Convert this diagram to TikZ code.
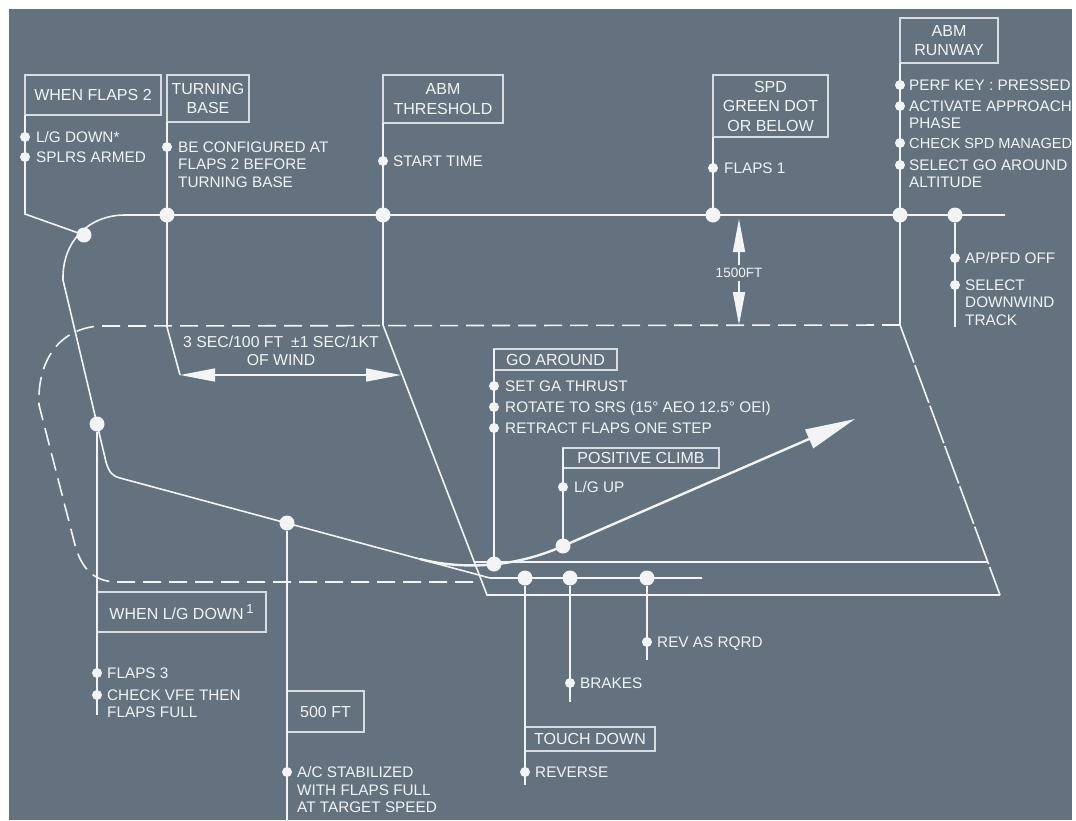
\documentclass[tikz,border=0pt]{standalone}
\usepackage{fontspec}
\setmainfont{Liberation Sans}
\usepackage{xcolor}
\usetikzlibrary{arrows.meta,calc,positioning}
\definecolor{slate}{RGB}{100,114,127}
\definecolor{chalk}{RGB}{242,244,246}
\definecolor{boxline}{RGB}{214,220,226}
\tikzset{
  lbox/.style={draw=boxline, line width=1.2pt, anchor=north west, inner sep=0pt, outer sep=0pt, align=center, text=chalk, font=\fontsize{16}{19.5}\selectfont},
  bigdot/.style={circle, fill=chalk, minimum size=15pt, inner sep=0pt, outer sep=0pt},
  bul/.style={circle, fill=chalk, minimum size=10pt, inner sep=0pt, outer sep=0pt},
  item/.style={anchor=north west, inner sep=0pt, align=left, text=chalk, font=\fontsize{15.3}{17.5}\selectfont},
  trk/.style={draw=chalk, line width=1.6pt},
  circuit/.style={draw=chalk, line width=1.6pt, dash pattern=on 18pt off 8pt},
  windtip/.style={{Triangle[length=35pt,width=13pt]}-{Triangle[length=35pt,width=13pt]}},
  fttip/.style={-{Triangle[length=33pt,width=12pt]}},
  gatip/.style={-{Triangle[length=50pt,width=20pt]}},
}
\begin{document}
\begin{tikzpicture}[x=1pt,y=-1pt]
\useasboundingbox (0,0) rectangle (1076,820);
\fill[white] (0,0) rectangle (1076,820);
\fill[slate] (9,9) rectangle (1072,820);
%%%% dots on the track
\node[bigdot] (dfl) at (84,235) {};
\node[bigdot] (dtb) at (167,215) {};
\node[bigdot] (dth) at (383,215) {};
\node[bigdot] (dspd) at (713,215) {};
\node[bigdot] (drw) at (900,215) {};
\node[bigdot] (dap) at (955,215) {};
\node[bigdot] (dlg) at (97,424) {};
\node[bigdot] (dfive) at (287,523) {};
\node[bigdot] (dga) at (494,564) {};
\node[bigdot] (dpc) at (563,546) {};
\node[bigdot] (dtd) at (525,578) {};
\node[bigdot] (dbr) at (570,578) {};
\node[bigdot] (drv) at (647,578) {};
%%%% boxes
\node[lbox, minimum width=136pt, minimum height=40pt] (bfl) at (25,75) {WHEN FLAPS 2};
\node[lbox, minimum width=82pt, minimum height=47pt] (btb) at (167,75) {TURNING\\BASE};
\node[lbox, minimum width=120pt, minimum height=48pt] (bth) at (383,75) {ABM\\THRESHOLD};
\node[lbox, minimum width=115pt, minimum height=62pt] (bspd) at (713,75) {SPD\\GREEN DOT\\OR BELOW};
\node[lbox, minimum width=98pt, minimum height=45pt] (brw) at (900,18) {ABM\\RUNWAY};
\node[lbox, minimum width=123pt, minimum height=21pt] (bga) at (494,349) {GO AROUND};
\node[lbox, minimum width=156pt, minimum height=20pt] (bpc) at (563,448) {POSITIVE CLIMB};
\node[lbox, minimum width=169pt, minimum height=40pt] (blg) at (97,592) {WHEN L/G DOWN\,\raisebox{6pt}{\fontsize{13}{13}\selectfont 1}};
\node[lbox, minimum width=77pt, minimum height=41pt] (bfive) at (287,691) {500 FT};
\node[lbox, minimum width=130pt, minimum height=24pt] (btd) at (525,727) {TOUCH DOWN};
%%%% bend points and free ends
\coordinate (dwend) at (1005,215);
\coordinate (kfl) at (25,214);
\coordinate (tbk) at (167,327);
\coordinate (wl) at (180,375);
\coordinate (wr) at (401,375);
\coordinate (thk) at (383,325);
\coordinate (rwk) at (900,325);
\coordinate (rwa) at (487,595);
\coordinate (rwb) at (1000,595);
\coordinate (rwc) at (474,562);
\coordinate (rwd) at (988,562);
\coordinate (flare) at (490,578);
\coordinate (rwend) at (702,578);
\coordinate (apend) at (955,327);
\coordinate (lgend) at (97,715);
\coordinate (fivend) at (287,822);
\coordinate (tdend) at (525,785);
\coordinate (brend) at (570,702);
\coordinate (rvend) at (647,660);
\coordinate (gabr) at (420,559);
\coordinate (gaend) at (855,419);
\coordinate (upt) at (739,219);
\coordinate (dnt) at (739,325);
%%%% circuit and runway
\draw[circuit] (rwk) -- (100,326) .. controls (60,328) and (37,360) .. (39,405) -- (75,545) .. controls (82,570) and (95,582) .. (118,582) -- (480,582);
\draw[trk] (bth.south west) -- (thk) -- (rwa) -- (rwb);
\draw[trk, dash pattern=on 40pt off 3pt] (rwk) -- (rwb);
\draw[trk] (rwc) -- (rwd);
%%%% flight path
\draw[trk] (dwend) -- (dtb.center) -- (125,215) .. controls (90,215) and (62,240) .. (63,280) -- (106,462) .. controls (109,472) and (112,476) .. (120,478) -- (flare) -- (rwend);
\draw[trk, line width=2.4pt, gatip] (gabr) .. controls (450,567) and (505,572) .. (dpc.center) -- (gaend);
%%%% stems
\draw[trk] (bfl.south west) -- (kfl) -- (dfl);
\draw[trk] (btb.south west) -- (tbk) -- (wl);
\draw[trk] (bspd.south west) -- (dspd);
\draw[trk] (brw.south west) -- (rwk);
\draw[trk] (dap) -- (apend);
\draw[trk] (dlg) -- (lgend);
\draw[trk] (dfive) -- (fivend);
\draw[trk] (bga.north west) -- (dga);
\draw[trk] (bpc.north west) -- (dpc);
\draw[trk] (dtd) -- (tdend);
\draw[trk] (dbr) -- (brend);
\draw[trk] (drv) -- (rvend);
%%%% wind and height arrows
\draw[trk, windtip] (wl) -- (wr);
\node[item, anchor=north, align=center, font=\fontsize{15.8}{18}\selectfont] (wtxt) at (281,336) {3 SEC/100 FT\enspace ±1 SEC/1KT\\OF WIND};
\node[text=chalk, font=\fontsize{13.5}{15}\selectfont] (ft) at (739,273) {1500FT};
\draw[trk, fttip] (ft) -- (upt);
\draw[trk, fttip] (ft) -- (dnt);
%%%% bullets
\node[bul] (p1) at (25,137) {};
\node[item] (p1t) at ([xshift=11pt,yshift=5.5pt]p1.center) {L/G DOWN*};
\node[bul] (p2) at (25,157) {};
\node[item] (p2t) at ([xshift=11pt,yshift=5.5pt]p2.center) {SPLRS ARMED};
\node[bul] (p3) at (167,147) {};
\node[item] (p3t) at ([xshift=11pt,yshift=5.5pt]p3.center) {BE CONFIGURED AT\\FLAPS 2 BEFORE\\TURNING BASE};
\node[bul] (p4) at (383,161) {};
\node[item] (p4t) at ([xshift=10pt,yshift=5.5pt]p4.center) {START TIME};
\node[bul] (p5) at (713,168) {};
\node[item] (p5t) at ([xshift=11pt,yshift=5.5pt]p5.center) {FLAPS 1};
\node[bul] (p6) at (900,85) {};
\node[item] (p6t) at ([xshift=9pt,yshift=5.5pt]p6.center) {PERF KEY : PRESSED};
\node[bul] (p7) at (900,106) {};
\node[item] (p7t) at ([xshift=9pt,yshift=5.5pt]p7.center) {ACTIVATE APPROACH\\PHASE};
\node[bul] (p8) at (900,143) {};
\node[item, font=\fontsize{14.6}{17.5}\selectfont] (p8t) at ([xshift=9pt,yshift=5.3pt]p8.center) {CHECK SPD MANAGED};
\node[bul] (p9) at (900,165) {};
\node[item] (p9t) at ([xshift=9pt,yshift=5.5pt]p9.center) {SELECT GO AROUND\\ALTITUDE};
\node[bul] (p10) at (955,258) {};
\node[item] (p10t) at ([xshift=10pt,yshift=5.5pt]p10.center) {AP/PFD OFF};
\node[bul] (p11) at (955,285) {};
\node[item] (p11t) at ([xshift=10pt,yshift=5.5pt]p11.center) {SELECT\\DOWNWIND\\TRACK};
\node[bul] (p12) at (494,386) {};
\node[item] (p12t) at ([xshift=11pt,yshift=5.5pt]p12.center) {SET GA THRUST};
\node[bul] (p13) at (494,407) {};
\node[item] (p13t) at ([xshift=11pt,yshift=5.5pt]p13.center) {ROTATE TO SRS (15° AEO 12.5° OEI)};
\node[bul] (p14) at (494,428) {};
\node[item] (p14t) at ([xshift=11pt,yshift=5.5pt]p14.center) {RETRACT FLAPS ONE STEP};
\node[bul] (p15) at (563,487) {};
\node[item] (p15t) at ([xshift=11pt,yshift=5.5pt]p15.center) {L/G UP};
\node[bul] (p16) at (97,673) {};
\node[item] (p16t) at ([xshift=10pt,yshift=5.5pt]p16.center) {FLAPS 3};
\node[bul] (p17) at (97,695) {};
\node[item] (p17t) at ([xshift=10pt,yshift=5.5pt]p17.center) {CHECK VFE THEN\\FLAPS FULL};
\node[bul] (p18) at (287,772) {};
\node[item] (p18t) at ([xshift=10pt,yshift=5.5pt]p18.center) {A/C STABILIZED\\WITH FLAPS FULL\\AT TARGET SPEED};
\node[bul] (p19) at (525,772) {};
\node[item] (p19t) at ([xshift=10pt,yshift=5.5pt]p19.center) {REVERSE};
\node[bul] (p20) at (570,683) {};
\node[item] (p20t) at ([xshift=10pt,yshift=5.5pt]p20.center) {BRAKES};
\node[bul] (p21) at (647,642) {};
\node[item] (p21t) at ([xshift=10pt,yshift=5.5pt]p21.center) {REV AS RQRD};
\end{tikzpicture}
\end{document}
